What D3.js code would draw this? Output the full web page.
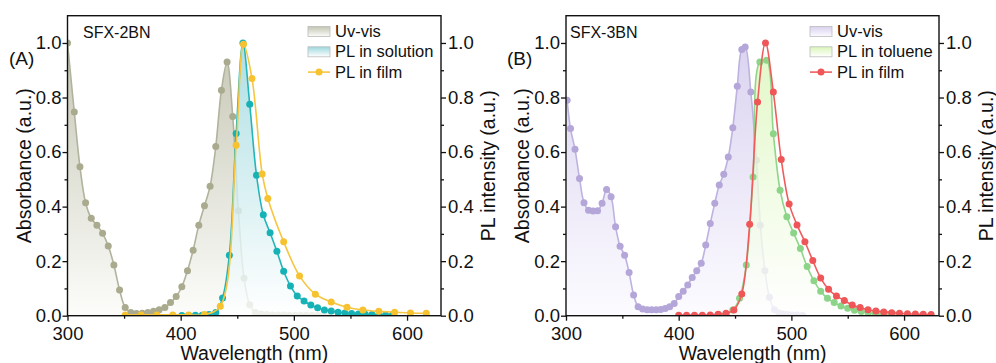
<!DOCTYPE html>
<html>
<head>
<meta charset="utf-8">
<script src="https://cdn.jsdelivr.net/npm/d3@7"></script>
<style>
body { margin: 0; background: #fff; }
text { font-family: "Liberation Sans", Arial, sans-serif; fill: #111; }
</style>
</head>
<body>
<script>
var svg_width  = 996;
var svg_height = 363;

// ---- data: [wavelength (nm), normalised value] ----
var uvA = [[300,1.0],[306,0.747],[311,0.546],[316,0.414],[321,0.357],[326,0.332],[331,0.302],[336,0.256],
  [341,0.186],[346,0.094],[351,0.03],[356,0.012],[361,0.008],[366,0.009],[371,0.012],[376,0.016],[381,0.022],
  [386,0.03],[391,0.048],[396,0.07],[401,0.106],[406,0.165],[411,0.24],[416,0.332],[421,0.403],[426,0.475],
  [431,0.62],[436,0.827],[441,0.93],[446,0.73],[451,0.385],[456,0.137],[461,0.04],[466,0.012],[471,0.006],
  [476,0.004],[481,0.003],[486,0.003],[491,0.003],[496,0.002],[501,0.002],[506,0.002],[511,0.002],[516,0.002],
  [521,0.002],[526,0.002],[531,0.002]];

var solutionA = [[401,0.001],[407,0.001],[413,0.002],[419,0.002],[425,0.004],[431,0.012],[437,0.065],[443,0.222],
  [449,0.668],[455,1.0],[461,0.775],[467,0.515],[473,0.37],[479,0.304],[485,0.236],[491,0.163],[497,0.109],
  [503,0.072],[509,0.054],[515,0.039],[521,0.029],[527,0.021],[533,0.017],[539,0.013],[545,0.01],[551,0.008],
  [557,0.006],[563,0.005],[569,0.004],[575,0.003],[581,0.003],[587,0.002]];

var filmA = [[351,0.003],[365,0.003],[379,0.003],[393,0.003],[407,0.003],[421,0.004],[435,0.035],[449,0.625],
  [455.5,0.995],[463,0.87],[472,0.52],[477,0.43],[491,0.271],[505,0.146],[519,0.079],[533,0.05],[547,0.031],
  [561,0.021],[575,0.016],[589,0.013],[603,0.01],[617,0.009]];

var uvB = [[301,0.79],[304,0.686],[308,0.61],[312,0.503],[316,0.414],[320,0.387],[324,0.384],[328,0.385],
  [332,0.412],[336,0.463],[340,0.436],[344,0.326],[348,0.255],[352,0.222],[356,0.158],[360,0.076],[364,0.033],
  [368,0.025],[372,0.022],[376,0.022],[380,0.022],[384,0.023],[388,0.026],[392,0.033],[396,0.045],[400,0.07],
  [404,0.09],[408,0.113],[412,0.14],[416,0.165],[420,0.192],[424,0.259],[428,0.338],[432,0.412],[436,0.479],
  [440,0.519],[444,0.582],[448,0.689],[452,0.841],[456,0.976],[459,0.985],[464,0.82],[469,0.57],[472.5,0.332],
  [476.5,0.165],[480.5,0.068],[485,0.022],[489,0.01],[493,0.006],[497,0.004],[501,0.003],[505,0.003],[510,0.002]];

var tolueneB = [[436,0.003],[442,0.006],[448,0.021],[454,0.064],[460,0.186],[466,0.509],[472,0.93],[478,0.937],
  [484,0.667],[490,0.46],[496,0.363],[502,0.303],[508,0.246],[514,0.18],[520,0.128],[526,0.09],[532,0.064],
  [538,0.048],[544,0.036],[550,0.027],[556,0.02],[562,0.015],[568,0.011],[574,0.008],[580,0.006],[586,0.004],
  [592,0.003]];

var filmB = [[400,0.002],[407,0.002],[414,0.002],[421,0.002],[428,0.003],[435,0.005],[442,0.009],[449,0.021],
  [456,0.08],[463,0.335],[470,0.784],[477,1.0],[484,0.82],[491,0.573],[498,0.41],[505,0.333],[512,0.271],
  [519,0.202],[526,0.138],[533,0.097],[540,0.072],[547,0.056],[554,0.039],[561,0.03],[568,0.022],[575,0.017],
  [582,0.014],[589,0.011],[596,0.009],[603,0.007],[610,0.006],[617,0.005],[624,0.004]];

var xMajor = [300, 400, 500, 600];
var xMinor = [350, 450, 550];
var yMajor = [0, 0.2, 0.4, 0.6, 0.8, 1.0];
var yMinor = [0.1, 0.3, 0.5, 0.7, 0.9];

var svg = d3.select('body').append('svg')
            .attr('width', svg_width)
            .attr('height', svg_height);
var defs = svg.append('defs');

function gradient(id, top, bottom, userSpace, y1, y2) {
  var g = defs.append('linearGradient').attr('id', id)
              .attr('x1', 0).attr('x2', 0);
  if (userSpace) {
    g.attr('gradientUnits', 'userSpaceOnUse').attr('y1', y1).attr('y2', y2);
  } else {
    g.attr('y1', 0).attr('y2', 1);
  }
  g.append('stop').attr('offset', 0).attr('stop-color', top);
  g.append('stop').attr('offset', 1).attr('stop-color', bottom);
}

function drawPanel(p) {
  var x = d3.scaleLinear().domain(p.xDomain).range([p.left, p.right]);
  var y = d3.scaleLinear().domain([0, 1.1]).range([315.7, 15.7]);
  var g = svg.append('g');
  var key = p.key;

  defs.append('clipPath').attr('id', 'clip' + key)
      .append('rect').attr('x', p.left).attr('y', 15.7)
      .attr('width', p.right - p.left).attr('height', 300);

  var line = d3.line().x(d => x(d[0])).y(d => y(d[1])).curve(d3.curveCatmullRom.alpha(0.5));
  var area = d3.area().x(d => x(d[0])).y0(y(0)).y1(d => y(d[1])).curve(d3.curveCatmullRom.alpha(0.5));

  var plot = g.append('g').attr('clip-path', 'url(#clip' + key + ')');

  p.series.forEach(function(s, i) {
    if (s.fill) {
      gradient('fill' + key + i, s.fill[0], s.fill[1], true, y(1.0), y(0));
      gradient('sw' + key + i, s.fill[0], s.fill[1], false);
      plot.append('path').datum(s.data)
          .attr('d', area)
          .attr('fill', 'url(#fill' + key + i + ')')
          .attr('fill-opacity', s.fillOpacity);
    }
    plot.append('path').datum(s.data)
        .attr('d', line)
        .attr('fill', 'none')
        .attr('stroke', s.line)
        .attr('stroke-width', 1.6);
    plot.append('g').selectAll('circle')
        .data(s.data)
        .enter().append('circle')
        .attr('cx', d => x(d[0]))
        .attr('cy', d => y(d[1]))
        .attr('r', 3.5)
        .attr('fill', s.dot);
  });

  // frame + axes
  var axes = g.append('g');
  function style(a) {
    a.select('.domain').remove();
    a.selectAll('line').attr('stroke', '#111').attr('stroke-width', 1.3);
    a.selectAll('text').attr('font-size', 18.5).attr('fill', '#111');
  }
  axes.append('g').attr('transform', 'translate(0,315.7)')
      .call(d3.axisBottom(x).tickValues(xMajor).tickSize(5).tickPadding(6).tickFormat(d3.format('d')))
      .call(style);
  axes.append('g').attr('transform', 'translate(0,315.7)')
      .call(d3.axisBottom(x).tickValues(xMinor).tickSize(3).tickFormat(''))
      .call(style);
  axes.append('g').attr('transform', 'translate(' + p.left + ',0)')
      .call(d3.axisLeft(y).tickValues(yMajor).tickSize(5).tickPadding(1).tickFormat(d3.format('.1f')))
      .call(style);
  axes.append('g').attr('transform', 'translate(' + p.left + ',0)')
      .call(d3.axisLeft(y).tickValues(yMinor).tickSize(3).tickFormat(''))
      .call(style);
  axes.append('g').attr('transform', 'translate(' + p.right + ',0)')
      .call(d3.axisRight(y).tickValues(yMajor).tickSize(5).tickPadding(2).tickFormat(d3.format('.1f')))
      .call(style);
  axes.append('g').attr('transform', 'translate(' + p.right + ',0)')
      .call(d3.axisRight(y).tickValues(yMinor).tickSize(3).tickFormat(''))
      .call(style);
  g.append('rect')
      .attr('x', p.left).attr('y', 15.7)
      .attr('width', p.right - p.left).attr('height', 300)
      .attr('fill', 'none').attr('stroke', '#111').attr('stroke-width', 1.4);

  // titles
  var mid = (p.left + p.right) / 2;
  g.append('text').attr('x', mid).attr('y', 360).attr('text-anchor', 'middle')
      .attr('font-size', 19.5).text('Wavelength (nm)');
  g.append('text').attr('transform', 'translate(' + (p.left - 37) + ',165.7) rotate(-90)')
      .attr('text-anchor', 'middle').attr('font-size', 19.5).text('Absorbance (a.u.)');
  g.append('text').attr('transform', 'translate(' + (p.right + 54) + ',165.7) rotate(-90)')
      .attr('text-anchor', 'middle').attr('font-size', 19.5).text('PL intensity (a.u.)');
  g.append('text').attr('x', p.tagX).attr('y', 65).attr('font-size', 19).text(p.tag);
  g.append('text').attr('x', p.nameX).attr('y', 37.5).attr('font-size', 16).text(p.name);

  // legend
  var leg = g.append('g').attr('transform', 'translate(' + p.legX + ',31.5)');
  p.series.forEach(function(s, i) {
    var row = leg.append('g').attr('transform', 'translate(0,' + (i * 20.3) + ')');
    if (s.fill) {
      row.append('rect').attr('x', 0).attr('y', -5).attr('width', 22).attr('height', 10)
         .attr('fill', 'url(#sw' + key + i + ')').attr('stroke', '#bbb').attr('stroke-width', 0.8);
    } else {
      row.append('line').attr('x1', 0).attr('x2', 22).attr('stroke', s.line).attr('stroke-width', 1.6);
      row.append('circle').attr('cx', 11).attr('r', 3.5).attr('fill', s.dot);
    }
    row.append('text').attr('x', 27).attr('y', 5.5).attr('font-size', 16.5).text(s.label);
  });
}

drawPanel({
  key: 'A', tag: '(A)', tagX: 9, name: 'SFX-2BN', nameX: 83,
  left: 67.5, right: 441, xDomain: [300, 630], legX: 308,
  series: [
    {label: 'Uv-vis', data: uvA, line: '#b2b39c', dot: '#a9aa8e', fill: ['#c4c5b2', '#fcfcfa'], fillOpacity: 0.95},
    {label: 'PL in solution', data: solutionA, line: '#22b6ba', dot: '#17b2b6', fill: ['#9cd8de', '#ffffff'], fillOpacity: 0.82},
    {label: 'PL in film', data: filmA, line: '#f6c640', dot: '#f7c22f'}
  ]
});

drawPanel({
  key: 'B', tag: '(B)', tagX: 507, name: 'SFX-3BN', nameX: 570,
  left: 566, right: 939, xDomain: [300, 631], legX: 810,
  series: [
    {label: 'Uv-vis', data: uvB, line: '#bdb2e0', dot: '#b4a6d8', fill: ['#d9d1ef', '#fcfbff'], fillOpacity: 0.95},
    {label: 'PL in toluene', data: tolueneB, line: '#8fd58b', dot: '#8cd488', fill: ['#daf6b8', '#ffffff'], fillOpacity: 0.8},
    {label: 'PL in film', data: filmB, line: '#f05c5c', dot: '#ef5657'}
  ]
});
</script>
</body>
</html>
